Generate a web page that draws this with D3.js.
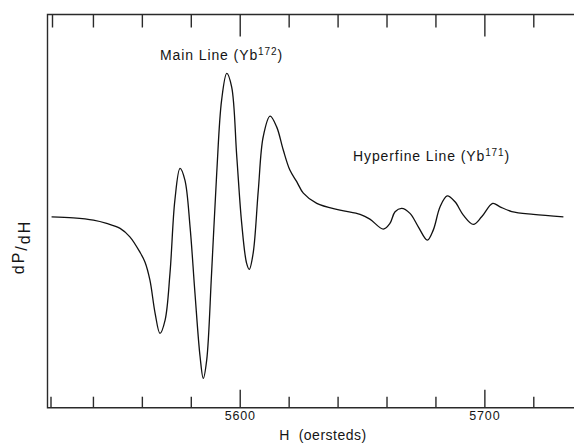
<!DOCTYPE html>
<html>
<head>
<meta charset="utf-8">
<script src="https://cdn.jsdelivr.net/npm/d3@7"></script>
<style>
  html, body { margin: 0; padding: 0; background: #fff; }
  svg { display: block; }
  text { font-family: "Liberation Sans", Arial, sans-serif; fill: #151515; }
</style>
</head>
<body>
<script>
// EPR derivative trace (arbitrary units, 0 = baseline)
var fieldOe = [
  5523.1, 5532.0, 5540.2, 5545.6, 5551.1, 5555.1, 5559.2, 5561.3, 5563.3, 5565.4,
  5567.4, 5569.5, 5571.5, 5573.5, 5575.6, 5577.6, 5579.7, 5581.7, 5583.8, 5585.1,
  5586.5, 5588.5, 5590.6, 5592.6, 5594.7, 5596.7, 5598.8, 5600.8, 5602.8, 5603.9,
  5605.5, 5607.6, 5609.6, 5612.4, 5615.1, 5617.8, 5620.5, 5623.3, 5626.0, 5631.5,
  5641.0, 5649.2, 5653.2, 5658.7, 5661.4, 5663.5, 5666.2, 5669.6, 5673.0, 5676.7,
  5679.1, 5681.9, 5684.8, 5688.0, 5691.4, 5695.5, 5698.9, 5703.4, 5706.4, 5711.2,
  5720.0, 5732.3
];
var dPdH = [
  -0.5, -1.2, -2.8, -5.1, -8.6, -14.5, -25.2, -32.2, -44.8, -67.8,
  -82.0, -72.7, -39.9, 11.2, 33.4, 25.2, -7.5, -53.8, -98.4, -113.5,
  -100.7, -39.9, 30.1, 81.1, 99.8, 90.4, 41.5, -4.9, -32.9, -37.3,
  -25.9, 18.2, 55.5, 69.9, 62.4, 46.2, 32.2, 24.1, 16.1, 8.9,
  4.2, 1.2, -2.1, -9.1, -5.1, 3.0, 5.4, 1.9, -7.5, -16.8,
  -9.8, 6.5, 14.2, 10.0, 0.7, -5.8, -0.5, 8.9, 6.5, 3.2,
  1.2, -0.5
];

var minorTicks = [5540, 5560, 5580, 5620, 5640, 5660, 5680, 5720];
var majorTicks = [5600, 5700];
var tickLabels = ["5600", "5700"];

var width = 574, height = 443;
// ("top" is taken by window.top, hence the longer names)
var frameLeft = 47.5, frameTop = 14.5, frameBottom = 407.7, frameRight = 574;

var x = d3.scaleLinear().domain([5520, 5720]).range([44, 533.3]);
var y = d3.scaleLinear().domain([-134, 141]).range([frameBottom, frameTop]);

var svg = d3.select("body").append("svg")
    .attr("width", width)
    .attr("height", height);

// frame: left, top and bottom rules (the right side is open)
svg.append("path")
    .attr("d", "M" + frameRight + "," + frameTop + "H" + frameLeft + "V" + frameBottom + "H" + frameRight)
    .attr("fill", "none")
    .attr("stroke", "#2a2a2a")
    .attr("stroke-width", 1.4);

// little corner ticks just inside the frame
svg.append("path")
    .attr("d", "M51," + frameBottom + "v-11M52.5," + frameTop + "v13")
    .attr("stroke", "#2a2a2a")
    .attr("stroke-width", 1.4);

function axisStyle(g) {
  g.select(".domain").remove();
  g.selectAll(".tick line").attr("stroke", "#2a2a2a").attr("stroke-width", 1.4);
}

// bottom ticks point up into the plot
svg.append("g")
    .attr("transform", "translate(0," + frameBottom + ")")
    .call(d3.axisBottom(x).tickValues(minorTicks).tickSizeInner(-11).tickSizeOuter(0).tickFormat(""))
    .call(axisStyle);

svg.append("g")
    .attr("transform", "translate(0," + frameBottom + ")")
    .call(d3.axisBottom(x).tickValues(majorTicks).tickSizeInner(-18).tickSizeOuter(0).tickPadding(3.5)
      .tickFormat(function(d, i) { return tickLabels[i]; }))
    .call(axisStyle)
    .call(function(g) {
      g.selectAll(".tick text")
        .attr("font-family", null)
        .attr("font-size", 12.5)
        .attr("letter-spacing", 0.8)
        .attr("fill", "#151515");
    });

// top ticks point down
svg.append("g")
    .attr("transform", "translate(0," + frameTop + ")")
    .call(d3.axisTop(x).tickValues(minorTicks).tickSizeInner(-13).tickSizeOuter(0).tickFormat(""))
    .call(axisStyle);

svg.append("g")
    .attr("transform", "translate(0," + frameTop + ")")
    .call(d3.axisTop(x).tickValues(majorTicks).tickSizeInner(-22).tickSizeOuter(0).tickFormat(""))
    .call(axisStyle);

// the trace
var line = d3.line()
    .x(function(d, i) { return x(fieldOe[i]); })
    .y(function(d) { return y(d); })
    .curve(d3.curveCatmullRom.alpha(0.5));

svg.append("path")
    .datum(dPdH)
    .attr("d", line)
    .attr("fill", "none")
    .attr("stroke", "#111")
    .attr("stroke-width", 1.3)
    .attr("stroke-linejoin", "round");

// annotations
function label(tx, ty, main, sup) {
  var t = svg.append("text")
      .attr("x", tx)
      .attr("y", ty)
      .attr("font-size", 14)
      .attr("letter-spacing", 0.9);
  t.append("tspan").text(main);
  t.append("tspan").attr("font-size", 10).attr("dy", -5).text(sup);
  t.append("tspan").attr("dy", 5).text(")");
}
label(160, 59.5, "Main Line (Yb", "172");
label(353, 160.5, "Hyperfine Line (Yb", "171");

svg.append("text")
    .attr("x", 323)
    .attr("y", 440)
    .attr("text-anchor", "middle")
    .attr("font-size", 14)
    .attr("letter-spacing", 0.5)
    .style("white-space", "pre")
    .text("H  (oersteds)");

var yl = svg.append("text")
    .attr("transform", "translate(27,247)rotate(-90)")
    .attr("text-anchor", "middle")
    .attr("font-size", 16)
    .attr("letter-spacing", 2);
yl.append("tspan").attr("dy", -3).text("dP");
yl.append("tspan").attr("dy", 3).text("/");
yl.append("tspan").attr("dy", 3).text("dH");
</script>
</body>
</html>
